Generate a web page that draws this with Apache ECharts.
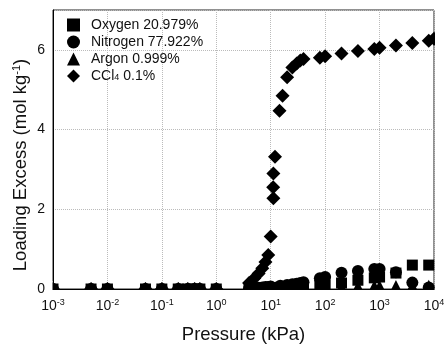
<!DOCTYPE html>
<html><head><meta charset="utf-8">
<script src="https://cdn.jsdelivr.net/npm/echarts@6/dist/echarts.min.js"></script>
<style>html,body{margin:0;padding:0;background:#fff}#c{width:447px;height:345px}</style>
</head><body><div id="c"></div>
<script>
// Pressures (kPa)
var pLow = [0.001, 0.005, 0.01, 0.05, 0.1, 0.2, 0.3, 0.4, 0.5, 1];
var pMid = [4, 5, 6, 7, 8, 9, 10, 15, 20, 25, 30, 35, 40, 80, 100, 200, 400, 800, 1000, 2000, 4000, 8000];
var pCCl4 = [4, 5, 6, 7, 8, 9, 10, 11.2, 11.1, 11.2, 12, 14.5, 16.5, 20, 25, 30, 35, 40, 80, 100, 200, 400, 800, 1000, 2000, 4000, 8000, 10000];
// Loading excess (mol/kg)
var lowVals = [0, 0, 0, 0, 0, 0, 0, 0, 0, 0];
var oxygen = [0.01, 0.01, 0.02, 0.02, 0.02, 0.03, 0.03, 0.04, 0.05, 0.05, 0.06, 0.06, 0.07, 0.09, 0.1, 0.15, 0.22, 0.28, 0.3, 0.4, 0.6, 0.6];
var nitrogen = [0.02, 0.03, 0.03, 0.04, 0.05, 0.05, 0.06, 0.08, 0.1, 0.12, 0.13, 0.15, 0.17, 0.27, 0.3, 0.41, 0.45, 0.5, 0.5, 0.42, 0.16, 0.04];
var argon = [0, 0.01, 0.01, 0.01, 0.01, 0.01, 0.01, 0.02, 0.02, 0.02, 0.02, 0.02, 0.03, 0.03, 0.03, 0.04, 0.05, 0.06, 0.06, 0.06, 0.06, 0.07];
var ccl4 = [0.15, 0.27, 0.39, 0.52, 0.68, 0.85, 1.32, 2.28, 2.55, 2.9, 3.32, 4.47, 4.85, 5.31, 5.56, 5.66, 5.73, 5.77, 5.8, 5.84, 5.91, 5.97, 6.02, 6.05, 6.11, 6.17, 6.23, 6.28];
var seriesNames = ['Oxygen 20.979%', 'Nitrogen 77.922%', 'Argon 0.999%', 'CCl4 0.1%'];
var yTicks = [0, 2, 4, 6];

function pairs(ps, vs) { return ps.map(function (p, i) { return [p, vs[i]]; }); }
var FONT = '"Liberation Sans", Arial, sans-serif';

var chart = echarts.init(document.getElementById('c'));
var mk = function (name, sym, size, data) {
  return { name: name, type: 'scatter', symbol: sym, symbolSize: size, data: data,
    itemStyle: { color: '#000', opacity: 1 }, emphasis: { disabled: true } };
};
chart.setOption({
  animation: false,
  backgroundColor: '#fff',
  textStyle: { fontFamily: FONT },
  grid: { left: 53, right: 13, top: 10, bottom: 56, show: true, borderColor: '#222', borderWidth: 1,
    backgroundColor: 'transparent', containLabel: false, outerBoundsMode: 'none' },
  legend: {
    orient: 'vertical', left: 62, top: 13, itemWidth: 13, itemHeight: 13, itemGap: 3,
    data: seriesNames,
    formatter: function (n) {
      if (n.indexOf('CCl4') === 0) return '{n|CCl}{sub|4}{n|' + n.slice(4) + '}';
      return '{n|' + n + '}';
    },
    textStyle: {
      padding: [0, 0, 0, 6],
      rich: {
        n: { fontFamily: FONT, fontSize: 14, color: '#111', lineHeight: 13 },
        sub: { fontFamily: FONT, fontSize: 9, color: '#111', lineHeight: 6, verticalAlign: 'bottom' }
      }
    }
  },
  xAxis: {
    type: 'log', logBase: 10, min: 0.001, max: 10000, interval: 1,
    name: 'Pressure (kPa)', nameLocation: 'middle', nameGap: 36,
    nameTextStyle: { fontFamily: FONT, fontSize: 18.5, color: '#111' },
    axisLine: { show: true, lineStyle: { color: '#000', width: 1 } },
    axisTick: { show: false },
    splitLine: { show: true, lineStyle: { color: '#bbb', type: 'dotted', width: 1 } },
    axisLabel: {
      margin: 9,
      formatter: function (v) { var e = Math.round(Math.log10(v)); return '{b|10}{s|' + e + '}'; },
      rich: {
        b: { fontFamily: FONT, fontSize: 14, color: '#111', lineHeight: 16 },
        s: { fontFamily: FONT, fontSize: 9, color: '#111', lineHeight: 9, verticalAlign: 'top' }
      }
    }
  },
  yAxis: {
    type: 'value', min: 0, max: 7, interval: 2,
    axisLine: { show: true, lineStyle: { color: '#000', width: 1 } },
    axisTick: { show: false },
    splitLine: { show: true, lineStyle: { color: '#bbb', type: 'dotted', width: 1 } },
    axisLabel: {
      margin: 8, fontFamily: FONT, fontSize: 14, color: '#111', showMaxLabel: false,
      formatter: function (v) { return yTicks.indexOf(v) >= 0 ? String(v) : ''; }
    }
  },
  graphic: [
    { type: 'rect', z: 100, shape: { x: 44, y: 290, width: 392, height: 7 }, style: { fill: '#fff' } },
    { type: 'rect', z: 100, shape: { x: 45, y: 281, width: 7.5, height: 16 }, style: { fill: '#fff' } },
    { type: 'rect', z: 100, shape: { x: 435, y: 0, width: 12, height: 297 }, style: { fill: '#fff' } },
    { type: 'text', z: 100, x: 21, y: 165, rotation: Math.PI / 2,
      style: {
        text: '{m|Loading Excess (mol kg}{s|-1}{m|)}', align: 'center', verticalAlign: 'middle',
        rich: {
          m: { fontFamily: FONT, fontSize: 18.5, fill: '#111', lineHeight: 20 },
          s: { fontFamily: FONT, fontSize: 11, fill: '#111', lineHeight: 11, verticalAlign: 'top' }
        }
      }
    }
  ],
  series: [
    mk(seriesNames[0], 'rect', 11, pairs(pLow, lowVals).concat(pairs(pMid, oxygen))),
    mk(seriesNames[1], 'circle', 12, pairs(pLow, lowVals).concat(pairs(pMid, nitrogen))),
    mk(seriesNames[2], 'triangle', 13, pairs(pLow, lowVals).concat(pairs(pMid, argon))),
    mk(seriesNames[3], 'diamond', 14, pairs(pLow, lowVals).concat(pairs(pCCl4, ccl4)))
  ]
});
</script></body></html>
